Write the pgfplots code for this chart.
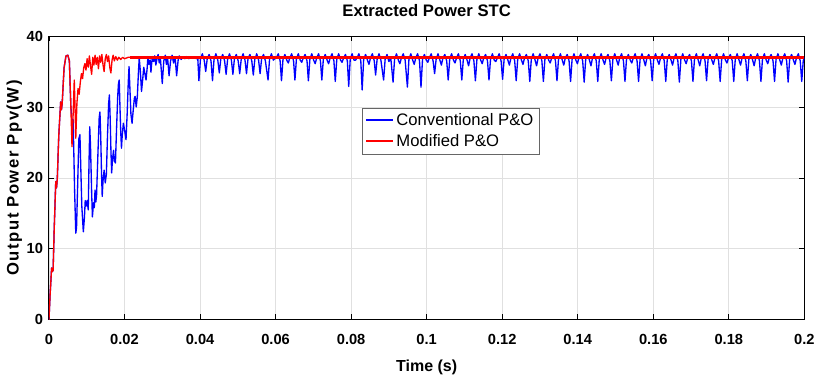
\documentclass[border=0pt]{standalone}
\usepackage{fontspec}
\setmainfont{Liberation Sans}
\newfontfamily\ylabfont{Liberation Sans}[LetterSpace=9]
\usepackage{pgfplots}
\usepackage{pgfplotstable}
\pgfplotsset{compat=1.18}
\definecolor{mblue}{RGB}{0,0,255}
\definecolor{mred}{RGB}{255,0,0}

\pgfplotstableread{
t p
0 0
0.0003 3.5
0.0007 7.3
0.0009 6.8
0.0011 7.0
0.0014 13.0
0.0018 19.5
0.0020 18.6
0.0022 19.8
0.0026 26.0
0.0031 30.7
0.0033 29.6
0.0035 30.5
0.0040 35.5
0.0045 37.2
0.0050 37.3
0.0054 36.5
0.0058 30.0
0.0062 27.5
0.0064 28.2
0.0068 18.0
0.0071 12.2
0.0073 13.0
0.0076 19.0
0.0079 25.5
0.0082 26.1
0.0084 22.0
0.0087 16.0
0.0091 12.4
0.0094 14.5
0.0096 16.8
0.0098 16.0
0.0101 16.8
0.0104 15.5
0.0106 22.0
0.0108 27.2
0.0110 24.5
0.0113 18.0
0.0115 14.5
0.0118 16.5
0.0120 15.8
0.0122 18.3
0.0124 16.6
0.0126 17.5
0.0130 24.0
0.0133 28.5
0.0135 29.3
0.0137 26.0
0.0139 21.0
0.0141 17.4
0.0143 19.5
0.0146 21.1
0.0149 19.3
0.0152 20.5
0.0155 26.0
0.0158 30.5
0.0160 31.7
0.0162 28.5
0.0164 24.0
0.0166 20.7
0.0168 22.5
0.0171 23.9
0.0173 22.4
0.0176 22.1
0.0179 27.0
0.0182 31.5
0.0184 33.3
0.0186 33.8
0.0188 30.0
0.0190 26.5
0.0192 24.2
0.0194 26.0
0.0197 27.7
0.0200 26.8
0.0204 25.4
0.0207 29.0
0.0210 33.5
0.0212 35.7
0.0214 33.0
0.0217 29.0
0.0220 27.7
0.0223 29.5
0.0226 31.2
0.0228 31.5
0.0231 30.0
0.0234 31.5
0.0237 35.0
0.0239 36.9
0.0242 35.0
0.0245 32.2
0.0248 33.8
0.0251 35.6
0.0254 34.7
0.0257 33.8
0.0260 35.5
0.0262 37.1
0.0265 36.0
0.0268 36.6
0.0270 34.9
0.0272 36.2
0.0274 37.1
0.0277 36.4
0.0280 37.2
0.0283 35.9
0.0286 36.8
0.0289 37.4
0.0292 36.2
0.0295 36.9
0.0300 33.3
0.0304 36.5
0.0308 37.3
0.0311 36.0
0.0314 37.0
0.0318 34.4
0.0322 36.5
0.0326 37.3
0.0330 36.2
0.0334 37.0
0.0338 34.4
0.0342 36.6
0.0345 37.2
0.0350 36.7
0.0355 37.0
0.0360 36.8
0.0365 37.1
0.0370 36.8
0.0375 37.0
0.0380 36.9
0.0385 37.1
0.0390 36.8
0.0394 36.9
0.0397 33.7
0.0401 36.7
0.0406 37.5
0.0411 36.6
0.0415 35.0
0.0419 36.8
0.0424 37.4
0.0429 36.5
0.0433 33.7
0.0437 36.7
0.0442 37.5
0.0447 36.6
0.0451 34.8
0.0455 36.8
0.0460 37.4
0.0465 36.5
0.0469 34.6
0.0473 36.7
0.0478 37.5
0.0483 36.6
0.0487 34.6
0.0491 36.8
0.0496 37.4
0.0501 36.5
0.0505 34.7
0.0509 36.7
0.0514 37.5
0.0519 36.6
0.0523 34.7
0.0527 36.8
0.0532 37.4
0.0537 36.5
0.0541 34.5
0.0545 36.7
0.0550 37.5
0.0555 36.6
0.0559 34.7
0.0563 36.8
0.0568 37.4
0.0573 36.5
0.05800 33.8
0.05840 36.7
0.05890 37.5
0.05940 36.6
0.05980 36.8
0.06020 36.9
0.06070 37.5
0.06120 36.5
0.06156 33.7
0.06196 36.7
0.06246 37.4
0.06296 36.6
0.06336 36.2
0.06376 36.9
0.06426 37.5
0.06476 36.5
0.06512 33.8
0.06552 36.8
0.06602 37.5
0.06652 36.6
0.06692 36.3
0.06732 36.9
0.06782 37.4
0.06832 36.5
0.06868 33.7
0.06908 36.7
0.06958 37.5
0.07008 36.6
0.07048 36.1
0.07088 36.9
0.07138 37.5
0.07188 36.5
0.07224 33.8
0.07264 36.7
0.07314 37.4
0.07364 36.6
0.07404 36.1
0.07444 36.9
0.07494 37.5
0.07544 36.5
0.07580 33.6
0.07620 36.7
0.07670 37.5
0.07720 36.6
0.07760 36.3
0.07800 36.9
0.07850 37.4
0.07900 36.5
0.07936 32.9
0.07976 36.7
0.08026 37.5
0.08076 36.6
0.08116 36.6
0.08156 36.9
0.08206 37.5
0.08256 36.5
0.08292 32.4
0.08332 36.7
0.08382 37.4
0.08432 36.6
0.08472 36.0
0.08512 36.9
0.08562 37.5
0.08612 36.5
0.08648 34.5
0.08688 36.7
0.08738 37.5
0.08788 36.6
0.08860 33.8
0.08900 36.7
0.08950 37.4
0.09000 36.4
0.09050 36.9
0.09110 33.5
0.09150 36.7
0.09200 37.5
0.09250 36.6
0.09290 36.1
0.09330 36.9
0.09380 37.5
0.09430 36.6
0.0949 32.8
0.0953 36.7
0.0958 37.5
0.0963 36.6
0.0967 36.0
0.0971 36.9
0.0976 37.5
0.0981 36.5
0.0985 32.8
0.0989 36.7
0.0994 37.4
0.0999 36.6
0.1003 36.3
0.1007 36.9
0.1012 37.5
0.1017 36.5
0.1021 34.7
0.1025 36.7
0.1030 37.5
0.1035 36.6
0.1039 35.9
0.1043 36.9
0.1048 37.4
0.1053 36.5
0.1057 33.8
0.1061 36.7
0.1066 37.5
0.1071 36.6
0.1075 36.2
0.1079 36.9
0.1084 37.5
0.1089 36.5
0.1093 33.8
0.1097 36.7
0.1102 37.4
0.1107 36.6
0.1111 35.8
0.1115 36.9
0.1120 37.5
0.1125 36.5
0.1129 33.7
0.1133 36.7
0.1138 37.5
0.1143 36.6
0.1147 36.1
0.1151 36.9
0.1156 37.4
0.1161 36.5
0.1165 33.8
0.1169 36.7
0.1174 37.5
0.1179 36.6
0.1183 36.4
0.1187 36.9
0.1192 37.5
0.1197 36.5
0.1201 33.9
0.1205 36.7
0.1210 37.4
0.1215 36.6
0.1219 35.9
0.1223 36.9
0.1228 37.5
0.1233 36.5
0.1237 33.7
0.1241 36.7
0.1246 37.5
0.1251 36.6
0.1255 36.0
0.1259 36.9
0.1264 37.4
0.1269 36.5
0.1273 33.6
0.1277 36.7
0.1282 37.5
0.1287 36.6
0.1291 35.8
0.1295 36.9
0.1300 37.5
0.1305 36.5
0.1309 33.6
0.1313 36.7
0.1318 37.4
0.1323 36.6
0.1327 36.2
0.1331 36.9
0.1336 37.5
0.1341 36.5
0.1345 33.7
0.1349 36.7
0.1354 37.5
0.1359 36.6
0.1363 35.9
0.1367 36.9
0.1372 37.4
0.1377 36.5
0.1381 33.6
0.1385 36.7
0.1390 37.5
0.1395 36.6
0.1399 36.1
0.1403 36.9
0.1408 37.5
0.1413 36.5
0.1417 33.5
0.1421 36.7
0.1426 37.4
0.1431 36.6
0.1435 35.8
0.1439 36.9
0.1444 37.5
0.1449 36.5
0.1453 33.6
0.1457 36.7
0.1462 37.5
0.1467 36.6
0.1471 36.0
0.1475 36.9
0.1480 37.4
0.1485 36.5
0.1489 33.7
0.1493 36.7
0.1498 37.5
0.1503 36.6
0.1507 35.9
0.1511 36.9
0.1516 37.5
0.1521 36.5
0.1525 33.6
0.1529 36.7
0.1534 37.4
0.1539 36.6
0.1543 36.2
0.1547 36.9
0.1552 37.5
0.1557 36.5
0.1561 33.6
0.1565 36.7
0.1570 37.5
0.1575 36.6
0.1579 35.8
0.1583 36.9
0.1588 37.4
0.1593 36.5
0.1597 33.7
0.1601 36.7
0.1606 37.5
0.1611 36.6
0.1615 36.0
0.1619 36.9
0.1624 37.5
0.1629 36.5
0.1633 33.6
0.1637 36.7
0.1642 37.4
0.1647 36.6
0.1651 35.9
0.1655 36.9
0.1660 37.5
0.1665 36.5
0.1669 33.5
0.1673 36.7
0.1678 37.5
0.1683 36.6
0.1687 36.1
0.1691 36.9
0.1696 37.4
0.1701 36.5
0.1705 33.6
0.1709 36.7
0.1714 37.5
0.1719 36.6
0.1723 35.8
0.1727 36.9
0.1732 37.5
0.1737 36.5
0.1741 33.7
0.1745 36.7
0.1750 37.4
0.1755 36.6
0.1759 36.0
0.1763 36.9
0.1768 37.5
0.1773 36.5
0.1777 33.6
0.1781 36.7
0.1786 37.5
0.1791 36.6
0.1795 36.2
0.1799 36.9
0.1804 37.4
0.1809 36.5
0.1813 33.6
0.1817 36.7
0.1822 37.5
0.1827 36.6
0.1831 35.9
0.1835 36.9
0.1840 37.5
0.1845 36.5
0.1849 33.7
0.1853 36.7
0.1858 37.4
0.1863 36.6
0.1867 35.8
0.1871 36.9
0.1876 37.5
0.1881 36.5
0.1885 33.6
0.1889 36.7
0.1894 37.5
0.1899 36.6
0.1903 36.1
0.1907 36.9
0.1912 37.4
0.1917 36.5
0.1921 33.6
0.1925 36.7
0.1930 37.5
0.1935 36.6
0.1939 35.9
0.1943 36.9
0.1948 37.5
0.1953 36.5
0.1957 33.5
0.1961 36.7
0.1966 37.4
0.1971 36.6
0.1975 36.0
0.1979 36.9
0.1984 37.5
0.1989 36.5
0.1993 33.6
0.1997 36.5
0.2000 37.0
}\conv

\pgfplotstableread{
t p
0 0
0.0003 3.5
0.0007 7.3
0.0009 6.8
0.0011 7.0
0.0014 13.0
0.0018 19.5
0.0020 18.6
0.0022 19.8
0.0026 26.0
0.0031 30.7
0.0033 29.6
0.0035 30.5
0.0040 35.5
0.0045 37.2
0.0050 37.3
0.0054 36.5
0.0058 30.0
0.0061 24.4
0.0064 29.0
0.0067 33.8
0.0069 30.0
0.0071 25.6
0.0074 30.5
0.0077 32.6
0.0080 31.8
0.0083 33.5
0.0086 34.7
0.0089 34.0
0.0092 35.5
0.0095 36.1
0.0098 35.2
0.0101 36.8
0.0104 35.6
0.0107 37.2
0.0110 35.8
0.0113 34.6
0.0116 37.0
0.0119 35.9
0.0122 37.3
0.0125 36.0
0.0128 37.0
0.0131 35.4
0.0134 37.2
0.0137 36.3
0.0140 37.4
0.0143 36.0
0.0146 35.0
0.0149 36.8
0.0152 37.4
0.0155 36.4
0.0158 37.2
0.0161 35.6
0.0164 34.8
0.0167 36.6
0.0170 37.3
0.0173 36.5
0.0177 37.1
0.0181 36.6
0.0185 37.0
0.0190 36.7
0.0195 37.0
0.0200 36.8
0.0210 37.0
0.0220 37.0
}\modtrans

\pgfplotstableread{
t p
0.0215 37.0
0.0600 37.0
0.1000 37.0
0.1500 37.0
0.2000 37.0
}\modsteady

\begin{document}
\begin{tikzpicture}
\begin{axis}[
  scale only axis, width=567pt, height=213pt,
  xmin=0, xmax=0.2, ymin=0, ymax=40,
  xtick={0,0.02,0.04,0.06,0.08,0.1,0.12,0.14,0.16,0.18,0.2},
  xticklabels={0,0.02,0.04,0.06,0.08,0.1,0.12,0.14,0.16,0.18,0.2},
  ytick={0,10,20,30,40},
  yticklabels={0,10,20,30,40},
  tick align=inside, major tick length=4pt,
  grid=major, grid style={black!12, line width=0.6pt},
  axis line style={line width=0.7pt},
  tick style={black, line width=0.6pt},
  ticklabel style={font=\fontsize{11}{13}\selectfont\bfseries},
  xticklabel style={yshift=-7pt},
  yticklabel style={xshift=-1pt},
  title={\fontsize{12.5}{14}\selectfont\bfseries Extracted Power STC},
  title style={at={(axis description cs:0.5,1)}, anchor=south, yshift=5pt},
  xlabel={\fontsize{12}{14}\selectfont\bfseries Time (s)},
  xlabel style={at={(axis description cs:0.5,0)}, anchor=center, yshift=-36pt},
  ylabel={\fontsize{12.5}{14}\selectfont\ylabfont\bfseries Output Power Ppv(W)},
  ylabel style={at={(axis description cs:-0.046,0.5)}, anchor=center},
  legend style={at={(axis description cs:0.415,0.746)}, anchor=north west,
    draw=black!60, fill=white, font=\fontsize{12.5}{14}\selectfont,
    inner sep=2pt, row sep=1pt, cells={anchor=west}},
]
\addplot[forget plot, color=mblue, line width=1pt, line join=round] table[x=t, y=p] {\conv};
\addplot[forget plot, color=mred, line width=1pt, line join=round] table[x=t, y=p] {\modtrans};
\addplot[forget plot, color=mred, line width=2.3pt] table[x=t, y=p] {\modsteady};
\addlegendimage{legend image code/.code={\draw[draw=mblue, line width=1.3pt] (0pt,0.5pt) -- (20pt,0.5pt);}}
\addlegendentry{Conventional P\&O}
\addlegendimage{legend image code/.code={\draw[draw=mred, line width=1.3pt] (0pt,0.5pt) -- (20pt,0.5pt);}}
\addlegendentry{Modified P\&O}
\end{axis}
\path (current axis.south west) ++(-36.75pt,-44.25pt) rectangle ++(614.25pt,284.25pt);
\end{tikzpicture}
\end{document}
